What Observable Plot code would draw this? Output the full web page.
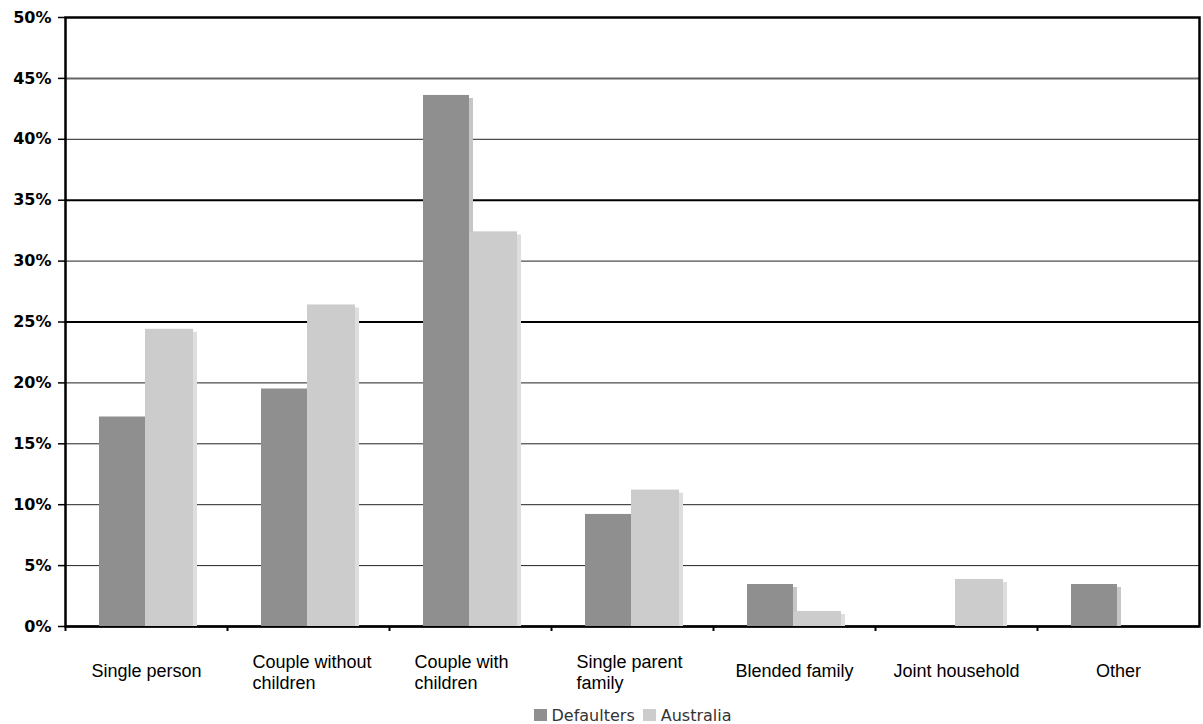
<!DOCTYPE html>
<html><head><meta charset="utf-8">
<script src="https://cdn.jsdelivr.net/npm/d3@7"></script>
<script src="https://cdn.jsdelivr.net/npm/@observablehq/plot@0.6"></script>
<style>
body{margin:0;background:#fff;}
#legend{height:24px;display:flex;justify-content:center;align-items:center;padding-left:62px;padding-top:3px;font-family:"DejaVu Sans",sans-serif;font-size:16px;color:#333;}
#legend .item{display:flex;align-items:center;margin:0 4px;}
#legend .sw{width:13px;height:12px;margin-right:5px;}
</style></head><body><div id="chart"></div><div id="legend"></div>
<script>
const categories = ["Single person","Couple without children","Couple with children","Single parent family","Blended family","Joint household","Other"];
const categoryLabels = ["Single person","Couple without\nchildren","Couple with\nchildren","Single parent\nfamily","Blended family","Joint household","Other"];
const defaulters = [17.2, 19.5, 43.6, 9.2, 3.45, 0, 3.45];
const australia = [24.4, 26.4, 32.4, 11.2, 1.23, 3.86, 0];
const seriesNames = ["Defaulters","Australia"];
const seriesColors = ["#8f8f8f","#cccccc"];
const shadowColors = ["#c6c6c6","#dedede"];
const yTicks = [0,5,10,15,20,25,30,35,40,45,50];
const gridValues = [5,10,15,20,25,30,35,40,45];

const W = 1203, H = 700, mL = 65, mR = 4, mT = 17, mB = 74;
const halfBand = (W - mL - mR) / categories.length / 2;

const rows = [];
categories.forEach((c, i) => {
  rows.push({cat: c, series: seriesNames[0], value: defaulters[i]});
  rows.push({cat: c, series: seriesNames[1], value: australia[i]});
});
const dRows = rows.filter(r => r.series === seriesNames[0] && r.value > 0);
const aRows = rows.filter(r => r.series === seriesNames[1] && r.value > 0);
const labels = categories.map((c, i) => ({cat: c, label: categoryLabels[i], multi: categoryLabels[i].includes("\n")}));

const darkInset = {insetLeft: 34, insetRight: 82};
const lightInset = {insetLeft: 80, insetRight: 34};

const chart = Plot.plot({
  width: W, height: H,
  marginTop: mT, marginBottom: mB, marginLeft: mL, marginRight: mR,
  x: {domain: categories, padding: 0, axis: null},
  y: {domain: [0, 50], axis: null},
  style: {background: "#fff", overflow: "visible"},
  marks: [
    Plot.ruleY(gridValues.filter(v => v !== 25 && v !== 35 && v !== 45), {stroke: "#222", strokeWidth: 1}),
    Plot.ruleY(gridValues.filter(v => v === 45), {stroke: "#666", strokeWidth: 2}),
    Plot.ruleY(gridValues.filter(v => v === 25 || v === 35), {stroke: "#000", strokeWidth: 2}),
    Plot.frame({stroke: "#000", strokeWidth: 2.5}),
    Plot.ruleY([0], {stroke: "#000", strokeWidth: 2}),
    Plot.barY(dRows, {x: "cat", y: "value", fill: shadowColors[0], dx: 4, insetTop: 3, ...darkInset}),
    Plot.barY(aRows, {x: "cat", y: "value", fill: shadowColors[1], dx: 4, insetTop: 3, ...lightInset}),
    Plot.barY(dRows, {x: "cat", y: "value", fill: seriesColors[0], ...darkInset}),
    Plot.barY(aRows, {x: "cat", y: "value", fill: seriesColors[1], ...lightInset}),
    Plot.axisY(yTicks, {label: null, tickFormat: d => d + "%", tickSize: 7, tickPadding: 7, fontSize: 16, fontWeight: "bold", fontFamily: "DejaVu Sans", fill: "#000", stroke: "#000", strokeWidth: 1.5}),
    Plot.axisX({label: null, tickSize: 5, tickFormat: () => "", dx: -halfBand, strokeWidth: 2, stroke: "#000"}),
    Plot.text(labels.filter(d => !d.multi), {x: "cat", text: "label", frameAnchor: "bottom", dy: 45, lineAnchor: "middle", textAnchor: "middle", fontSize: 18, fontFamily: "Liberation Sans", fill: "#000"}),
    Plot.text(labels.filter(d => d.multi), {x: "cat", text: "label", frameAnchor: "bottom", dy: 45, lineAnchor: "middle", textAnchor: "start", dx: -56, lineHeight: 1.2, fontSize: 18, fontFamily: "Liberation Sans", fill: "#000"})
  ]
});
document.getElementById("chart").appendChild(chart);

const legend = document.getElementById("legend");
seriesNames.forEach((s, i) => {
  const item = document.createElement("div");
  item.className = "item";
  const sw = document.createElement("span");
  sw.className = "sw";
  sw.style.background = seriesColors[i];
  const t = document.createElement("span");
  t.textContent = s;
  item.appendChild(sw); item.appendChild(t);
  legend.appendChild(item);
});
</script></body></html>
